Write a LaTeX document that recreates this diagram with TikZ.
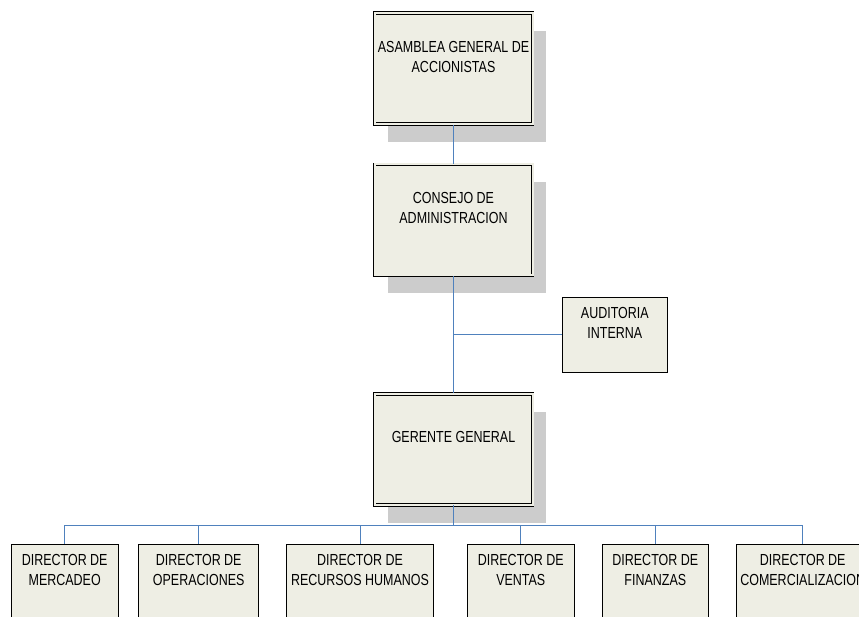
\documentclass[tikz,border=0pt]{standalone}
\usepackage{fontspec}
\setmainfont{Liberation Sans}[FakeStretch=0.78]
\usepackage{xcolor}
\usetikzlibrary{shadows}
\definecolor{boxfill}{RGB}{238,238,228}
\definecolor{linkblue}{RGB}{79,129,189}

\begin{document}
\begin{tikzpicture}[x=1pt, y=-1pt,
  every node/.style={font=\fontsize{16}{20}\selectfont},
  box/.style={draw=black, fill=boxfill, line width=0.8pt, inner sep=0pt},
  bigbox/.style={box, double=boxfill, double distance=2pt,
    minimum width=158pt, minimum height=111pt,
    drop shadow={shadow xshift=13.5pt, shadow yshift=-18pt, fill=black!20, opacity=1}},
  boxtext/.style={align=center, inner sep=0pt, yshift=12pt},
  link/.style={draw=linkblue, line width=0.9pt}]
\useasboundingbox (0,0) rectangle (859,617);

% upper levels
\node[bigbox] (asamblea) at (453.5,68.8) {};
\node[boxtext] (asamblea-txt) at (asamblea.center) {ASAMBLEA GENERAL DE\\ACCIONISTAS};
\node[bigbox] (consejo) at (453.5,220) {};
\node[boxtext] (consejo-txt) at (consejo.center) {CONSEJO DE\\ADMINISTRACION};
\node[bigbox] (gerente) at (453.5,449.2) {};
\node[boxtext] (gerente-txt) at (gerente.center) {GERENTE GENERAL};
\node[box, minimum width=105.5pt, minimum height=75.2pt] (auditoria) at (614.8,334.7) {};
\node[boxtext] (auditoria-txt) at (auditoria.center) {AUDITORIA\\INTERNA};

\draw[link] (asamblea.south) -- (consejo.north);
\draw[link] (consejo.south) -- (gerente.north);
\draw[link] (auditoria.west) -- (auditoria.west -| consejo.south);
\coordinate (bus) at (453.5,525);
\draw[link] (gerente.south) -- (bus);

% directors
\foreach \name/\cx/\w/\txt in {
  mercadeo/64.7/106.5/{DIRECTOR DE\\MERCADEO},
  operaciones/198.7/120/{DIRECTOR DE\\OPERACIONES},
  recursos/360/147/{DIRECTOR DE\\RECURSOS HUMANOS},
  ventas/520.8/107.5/{DIRECTOR DE\\VENTAS},
  finanzas/655.3/106.5/{DIRECTOR DE\\FINANZAS},
  comercial/802.7/133/{DIRECTOR DE\\COMERCIALIZACION}}{
  \node[box, minimum width=\w pt, minimum height=75pt] (\name) at (\cx,582) {};
  \node[boxtext] (\name-txt) at (\name.center) {\txt};
  \draw[link] (\name.north) |- (bus);
}
\end{tikzpicture}
\end{document}
